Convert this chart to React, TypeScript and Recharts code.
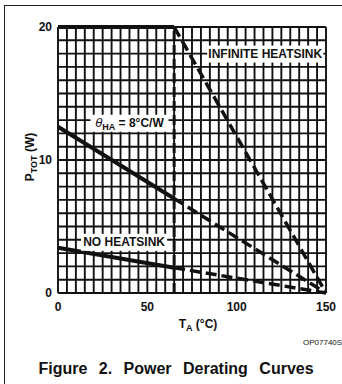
import React from 'react';
import { LineChart, Line, XAxis, YAxis, CartesianGrid, ReferenceLine, ReferenceDot } from 'recharts';

// break points of every curve (°C): solid up to the knee, dashed after it
const tempBreaks = [0, 65, 150];
const infiniteHeatsink = [20, 20, 0];
const thetaHA8 = [12.5, 7.1, 0];
const noHeatsink = [3.4, 1.9, 0];

const kneeTemp = 65;
const xTickLabels = [0, 50, 100, 150];
const yTickLabels = [0, 10, 20];
const xGridStep = 5;
const yGridStep = 1;

const FONT = '"Liberation Sans", Arial, Helvetica, sans-serif';

const xGrid = Array.from({ length: 150 / xGridStep + 1 }, (_, i) => i * xGridStep);
const yGrid = Array.from({ length: 20 / yGridStep + 1 }, (_, i) => i * yGridStep);

const segment = (vals: number[], from: number, to: number) =>
  tempBreaks.slice(from, to + 1).map((t, i) => ({ t, p: vals[from + i] }));

const curves = [infiniteHeatsink, thetaHA8, noHeatsink];

function boxLabel(content: React.ReactNode, w: number) {
  return (props: any) => (
    <g>
      <rect x={props.cx - w / 2} y={props.cy - 8} width={w} height={17} fill="#fff" />
      <text
        x={props.cx}
        y={props.cy + 4.5}
        textAnchor="middle"
        fontFamily={FONT}
        fontWeight="bold"
        fontSize={12}
        fill="#111"
      >
        {content}
      </text>
    </g>
  );
}

export default function App() {
  return (
    <div style={{ position: 'absolute', left: 0, top: 0, width: 342, height: 384, overflow: 'hidden', background: '#fff' }}>
      <div style={{ position: 'absolute', left: 4, top: 5, width: 400, height: 420, border: '1.5px solid #222' }} />
      <div style={{ position: 'absolute', left: 0, top: 0 }}>
        <LineChart width={342} height={384} margin={{ top: 27, right: 16, bottom: 61, left: 0 }}>
          <CartesianGrid stroke="#111" strokeWidth={1.9} />
          <XAxis
            dataKey="t"
            type="number"
            domain={[0, 150]}
            ticks={xGrid}
            interval={0}
            height={30}
            axisLine={false}
            tickLine={false}
            tickSize={6}
            tickMargin={3}
            tickFormatter={(v: number) => (xTickLabels.includes(v) ? String(v) : '')}
            tick={{ fill: '#111', fontSize: 12, fontWeight: 'bold', fontFamily: FONT }}
          />
          <YAxis
            dataKey="p"
            type="number"
            domain={[0, 20]}
            ticks={yGrid}
            interval={0}
            width={58}
            axisLine={false}
            tickLine={false}
            tickSize={4}
            tickMargin={2}
            tickFormatter={(v: number) => (yTickLabels.includes(v) ? String(v) : '')}
            tick={{ fill: '#111', fontSize: 12, fontWeight: 'bold', fontFamily: FONT }}
          />
          <ReferenceLine x={kneeTemp} stroke="#111" strokeWidth={3} strokeDasharray="10 4" />
          {curves.map((vals, i) => (
            <Line
              key={`solid-${i}`}
              data={segment(vals, 0, 1)}
              dataKey="p"
              stroke="#111"
              strokeWidth={4}
              dot={false}
              isAnimationActive={false}
            />
          ))}
          {curves.map((vals, i) => (
            <Line
              key={`dash-${i}`}
              data={segment(vals, 1, 2)}
              dataKey="p"
              stroke="#111"
              strokeWidth={3.5}
              strokeDasharray="11 5"
              dot={false}
              isAnimationActive={false}
            />
          ))}
          <ReferenceDot x={116} y={18} r={0} shape={boxLabel('INFINITE HEATSINK', 116)} />
          <ReferenceDot
            x={40}
            y={12.8}
            r={0}
            shape={boxLabel(
              <>
                <tspan fontStyle="italic" fontWeight="normal" fontSize={13}>θ</tspan>
                <tspan dy={3} fontSize={9}>HA</tspan>
                <tspan dy={-3}> = 8°C/W</tspan>
              </>,
              78
            )}
          />
          <ReferenceDot x={37} y={3.85} r={0} shape={boxLabel('NO HEATSINK', 86)} />
        </LineChart>
      </div>
      <div
        style={{
          position: 'absolute',
          left: 30,
          top: 157,
          transform: 'translate(-50%, -50%) rotate(-90deg)',
          fontFamily: FONT,
          fontWeight: 'bold',
          fontSize: 12,
          color: '#111',
          whiteSpace: 'nowrap',
        }}
      >
        P<span style={{ fontSize: 9, position: 'relative', top: 3 }}>TOT</span> (W)
      </div>
      <div
        style={{
          position: 'absolute',
          left: 198,
          top: 324,
          transform: 'translate(-50%, -50%)',
          fontFamily: FONT,
          fontWeight: 'bold',
          fontSize: 12,
          color: '#111',
          whiteSpace: 'nowrap',
        }}
      >
        T<span style={{ fontSize: 9, position: 'relative', top: 3 }}>A</span> (°C)
      </div>
      <div
        style={{
          position: 'absolute',
          left: 303,
          top: 338,
          fontFamily: FONT,
          fontSize: 8,
          color: '#111',
          whiteSpace: 'nowrap',
        }}
      >
        OP07740S
      </div>
      <div
        style={{
          position: 'absolute',
          left: 176,
          top: 369,
          transform: 'translate(-50%, -50%)',
          fontFamily: FONT,
          fontWeight: 'bold',
          fontSize: 16,
          wordSpacing: 7,
          color: '#111',
          whiteSpace: 'nowrap',
        }}
      >
        Figure 2. Power Derating Curves
      </div>
    </div>
  );
}
